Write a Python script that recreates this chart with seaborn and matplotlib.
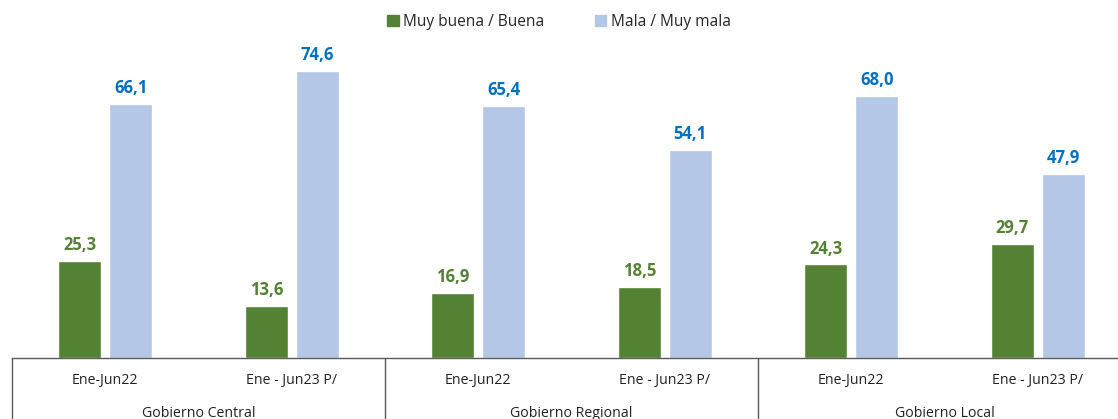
import matplotlib
matplotlib.use("Agg")
import matplotlib.pyplot as plt
import matplotlib.transforms as mtransforms
from matplotlib.patches import Patch
import seaborn as sb
import pandas as pd

periodos = ["Ene-Jun22", "Ene - Jun23 P/"] * 3
grupos = ["Gobierno Central", "Gobierno Regional", "Gobierno Local"]
buena = [25.3, 13.6, 16.9, 18.5, 24.3, 29.7]
mala = [66.1, 74.6, 65.4, 54.1, 68.0, 47.9]
series = ["Muy buena / Buena", "Mala / Muy mala"]
colores = ["#548235", "#B4C7E7"]
color_etiquetas = ["#548235", "#0070C0"]

pos = list(range(len(periodos)))
df = pd.DataFrame({
    "pos": pos * 2,
    "valor": buena + mala,
    "serie": [series[0]] * len(buena) + [series[1]] * len(mala),
})

sb.set_style("white")
plt.rcParams["font.family"] = ["Open Sans", "DejaVu Sans"]

fig = plt.figure(figsize=(11.18, 4.19), dpi=100)
# the axes runs a little past the right edge, as in the original
ax = fig.add_axes([12 / 1118, 61 / 419, 1119 / 1118, 318 / 419])

sb.barplot(data=df, x="pos", y="valor", hue="serie", hue_order=series,
           palette=colores, width=0.547, gap=0.157, order=pos,
           legend=False, ax=ax, saturation=1)

for cont, col in zip(ax.containers, color_etiquetas):
    ax.bar_label(cont, labels=[f"{v:.1f}".replace(".", ",") for v in cont.datavalues],
                 padding=5, color=col, fontsize=12, fontweight="bold")

ax.set_xlim(-0.5, len(periodos) - 0.5)
ax.set_ylim(0, 82.6)
ax.set_yticks([])
ax.set_xticks(pos)
ax.set_xticklabels(periodos, fontsize=10.2, color="#222222")
ax.tick_params(axis="x", length=0, pad=11)
ax.set_xlabel("")
ax.set_ylabel("")
for s in ["left", "right", "top"]:
    ax.spines[s].set_visible(False)
ax.spines["bottom"].set_color("#5a5a5a")
ax.spines["bottom"].set_linewidth(1)

trans = mtransforms.blended_transform_factory(ax.transData, ax.transAxes)
for xs in [-0.5, 1.5, 3.5, 5.5]:
    ax.plot([xs, xs], [0, -0.3], transform=trans, color="#5a5a5a",
            lw=1, clip_on=False)
for i, g in enumerate(grupos):
    ax.text(2 * i + 0.5, -0.175, g, transform=trans, ha="center", va="center",
            fontsize=10.2, color="#222222")

handles = [Patch(color=c) for c in colores]
fig.legend(handles, series, loc="center", bbox_to_anchor=(0.5, 1 - 22 / 419),
           ncol=2, frameon=False, fontsize=11.2, handlelength=0.75,
           handleheight=0.75, handletextpad=0.3, columnspacing=3.2)

fig.savefig("out.png", dpi=100)
